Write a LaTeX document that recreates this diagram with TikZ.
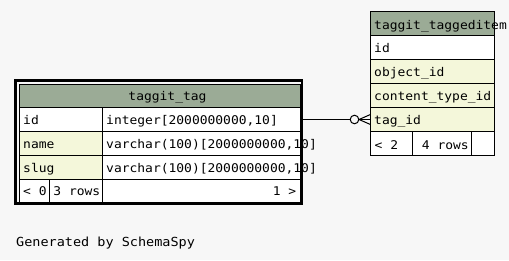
\documentclass[tikz,border=0pt]{standalone}
\usepackage{fontspec}
\newfontfamily\schemafont[FakeStretch=1.08]{DejaVu Sans Mono}
\definecolor{pagebg}{HTML}{F7F7F7}
\definecolor{headbg}{HTML}{9BAB96}
\definecolor{colbg}{HTML}{F4F7DA}
\begin{document}
\begin{tikzpicture}[x=1pt,y=-1pt,
  cell/.style={draw=black, line width=1pt, rectangle, inner sep=0pt,
    anchor=north west, minimum height=24pt},
  footcell/.style={cell, minimum height=22.5pt, fill=white},
  txt/.style={inner sep=0pt, anchor=base west,
    font=\schemafont\fontsize{12}{14}\selectfont},
  rtxt/.style={txt, anchor=base east},
  rel/.style={draw=black, line width=1pt}
]
\fill[pagebg] (0,0) rectangle (509,260);
\useasboundingbox (0,0) rectangle (509,260);

% ---- table taggit_tag ----
\node[cell, fill=headbg, minimum width=281pt, minimum height=23.5pt] (t1head) at (18.5,83.5) {};
\node[cell, fill=white, minimum width=83pt]  (t1idk)   at (18.5,107) {};
\node[cell, fill=white, minimum width=198pt] (t1idt)   at (101.5,107) {};
\node[cell, fill=colbg, minimum width=83pt]  (t1namek) at (18.5,131) {};
\node[cell, fill=white, minimum width=198pt] (t1namet) at (101.5,131) {};
\node[cell, fill=colbg, minimum width=83pt]  (t1slugk) at (18.5,155) {};
\node[cell, fill=white, minimum width=198pt] (t1slugt) at (101.5,155) {};
\node[footcell, minimum width=30pt]  (t1fa) at (18.5,179) {};
\node[footcell, minimum width=53pt]  (t1fb) at (48.5,179) {};
\node[footcell, minimum width=198pt] (t1fc) at (101.5,179) {};

\node[txt, anchor=base] (t1headL) at ([xshift=8pt,yshift=7.7pt]t1head.south) {taggit\_tag};
\node[txt] (t1idkL)   at ([xshift=4.5pt,yshift=7.7pt]t1idk.south west) {id};
\node[txt] (t1idtL)   at ([xshift=4.5pt,yshift=7.7pt]t1idt.south west) {integer[2000000000,10]};
\node[txt] (t1namekL) at ([xshift=4.5pt,yshift=7.7pt]t1namek.south west) {name};
\node[txt] (t1nametL) at ([xshift=4.5pt,yshift=7.7pt]t1namet.south west) {varchar(100)[2000000000,10]};
\node[txt] (t1slugkL) at ([xshift=4.5pt,yshift=7.7pt]t1slugk.south west) {slug};
\node[txt] (t1slugtL) at ([xshift=4.5pt,yshift=7.7pt]t1slugt.south west) {varchar(100)[2000000000,10]};
\node[txt]  (t1faL) at ([xshift=4.5pt,yshift=7.5pt]t1fa.south west) {< 0};
\node[rtxt] (t1fbL) at ([xshift=-2pt,yshift=7.5pt]t1fb.south east) {3 rows};
\node[rtxt] (t1fcL) at ([xshift=-4pt,yshift=7.5pt]t1fc.south east) {1 >};

% heavy frame around the focused table
\draw[line width=2.8pt] (15.7,80.7) rectangle (301.9,203.4);

% ---- table taggit_taggeditem ----
\node[cell, fill=headbg, minimum width=124pt] (t2head) at (370,11) {};
\node[cell, fill=white, minimum width=124pt] (t2id)    at (370,35) {};
\node[cell, fill=colbg, minimum width=124pt] (t2obj)   at (370,59) {};
\node[cell, fill=colbg, minimum width=124pt] (t2ctype) at (370,83) {};
\node[cell, fill=colbg, minimum width=124pt] (t2tag)   at (370,107) {};
\node[cell, fill=white, minimum width=42pt] (t2fa) at (370,131) {};
\node[cell, fill=white, minimum width=59pt] (t2fb) at (412,131) {};
\node[cell, fill=white, minimum width=23pt] (t2fc) at (471,131) {};

\node[txt] (t2headL)  at ([xshift=4pt,yshift=7pt]t2head.south west) {taggit\_taggeditem};
\node[txt] (t2idL)    at ([xshift=4pt,yshift=7.5pt]t2id.south west) {id};
\node[txt] (t2objL)   at ([xshift=4pt,yshift=7.5pt]t2obj.south west) {object\_id};
\node[txt] (t2ctypeL) at ([xshift=4pt,yshift=7.5pt]t2ctype.south west) {content\_type\_id};
\node[txt] (t2tagL)   at ([xshift=4pt,yshift=7.5pt]t2tag.south west) {tag\_id};
\node[txt]  (t2faL) at ([xshift=4.5pt,yshift=7pt]t2fa.south west) {< 2};
\node[rtxt] (t2fbL) at ([xshift=-3pt,yshift=7pt]t2fb.south east) {4 rows};

% ---- relationship: taggit_tag.id  -->  taggit_taggeditem.tag_id ----
\coordinate (ring) at ([xshift=-15.5pt]t2tag.west);
\coordinate (foot) at ([xshift=-11pt]t2tag.west);
\draw[rel] (t1idt.east) -- (t2tag.west);
\draw[rel, fill=pagebg] (ring) circle[radius=4.3pt];
\draw[rel] (foot) -- ([yshift=4.8pt]t2tag.west);
\draw[rel] (foot) -- ([yshift=-4.8pt]t2tag.west);

\node[txt, font=\schemafont\fontsize{12.5}{15}\selectfont] (credit) at (16,246.7) {Generated by SchemaSpy};
\end{tikzpicture}
\end{document}
